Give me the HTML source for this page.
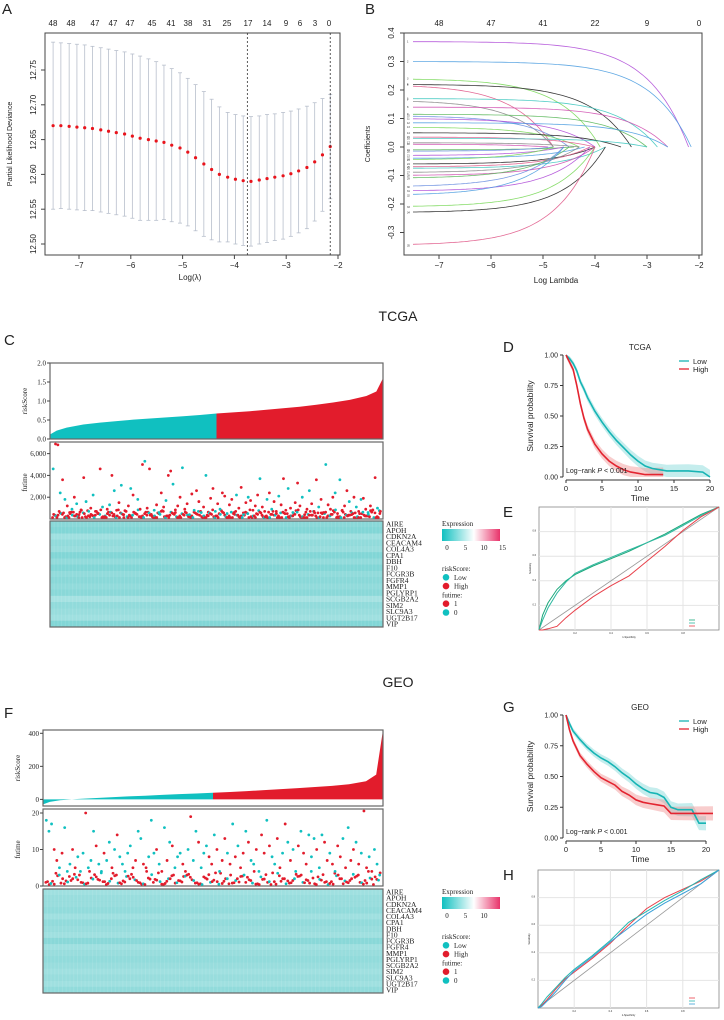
<!DOCTYPE html>
<html><head><meta charset="utf-8">
<style>
html,body{margin:0;padding:0;background:#fff;}
svg{display:block;font-family:"Liberation Sans",sans-serif;}
.serif{font-family:"Liberation Serif",serif;}
</style></head>
<body>
<svg id="fig" width="724" height="1020" viewBox="0 0 724 1020" xmlns="http://www.w3.org/2000/svg">
<g id="gA"></g>
<g id="gB"></g>
<g id="gC"></g>
<g id="gD"></g>
<g id="gE"></g>
<g id="gF"></g>
<g id="gG"></g>
<g id="gH"></g>
</svg>
<script>
// ---------- data ----------
const lambdaA=[-7.50,-7.35,-7.19,-7.04,-6.89,-6.74,-6.58,-6.43,-6.28,-6.12,-5.97,-5.82,-5.66,-5.51,-5.36,-5.21,-5.05,-4.90,-4.75,-4.59,-4.44,-4.29,-4.13,-3.98,-3.83,-3.68,-3.52,-3.37,-3.22,-3.06,-2.91,-2.76,-2.60,-2.45,-2.30,-2.15];
const meanA=[12.670,12.670,12.669,12.668,12.667,12.666,12.664,12.662,12.660,12.658,12.655,12.652,12.650,12.648,12.646,12.642,12.638,12.632,12.624,12.615,12.607,12.600,12.596,12.593,12.591,12.590,12.592,12.594,12.596,12.598,12.601,12.605,12.610,12.618,12.628,12.640];
const upperA=[12.790,12.789,12.788,12.787,12.786,12.784,12.782,12.780,12.778,12.776,12.773,12.770,12.766,12.762,12.757,12.752,12.746,12.738,12.729,12.719,12.708,12.697,12.689,12.686,12.684,12.683,12.684,12.686,12.687,12.689,12.691,12.694,12.698,12.703,12.709,12.715];
const topLabelsA=["48","48","47","47","47","45","41","38","31","25","17","14","9","6","3","0"];
const yTicksA=[12.50,12.55,12.60,12.65,12.70,12.75];
const xTicksA=[-7,-6,-5,-4,-3,-2];
const vlinesA=[-3.75,-2.15];

const coefStart=[0.37,0.30,0.24,0.22,0.22,0.17,0.165,0.14,0.115,0.11,0.10,0.085,0.07,0.05,0.035,0.03,0.015,0.01,-0.01,-0.015,-0.03,-0.04,-0.045,-0.06,-0.07,-0.075,-0.09,-0.10,-0.11,-0.14,-0.155,-0.17,-0.21,-0.23,-0.345];
const coefEnd=[-2.2,-2.15,-3.9,-3.3,-4.8,-2.8,-4.8,-2.6,-3.0,-4.5,-4.0,-2.6,-4.3,-3.5,-4.0,-3.0,-4.3,-4.9,-4.4,-4.8,-4.6,-4.2,-4.8,-4.0,-4.1,-3.8,-4.3,-4.0,-4.5,-4.6,-4.1,-4.6,-4.0,-3.8,-4.0];
const topLabelsB=["48","47","41","22","9","0"];
const yTicksB=[-0.3,-0.2,-0.1,0.0,0.1,0.2,0.3,0.4];

const genes=["AIRE","APOH","CDKN2A","CEACAM4","COL4A3","CPA1","DBH","F10","FCGR3B","FGFR4","MMP1","PGLYRP1","SCGB2A2","SIM2","SLC9A3","UGT2B17","VIP"];
const pctRisk=[0,2,5,10,15,20,25,30,35,40,45,50,55,60,65,70,75,80,85,90,95,98,100];
const tcgaRisk=[0.12,0.22,0.3,0.38,0.43,0.47,0.51,0.54,0.57,0.6,0.63,0.67,0.7,0.73,0.77,0.81,0.85,0.9,0.96,1.03,1.13,1.25,1.6];
const geoRisk=[-30,-15,-5,2,8,13,18,22,27,32,36,40,45,50,56,62,68,75,82,92,110,150,420];
const tcgaTime=[46,70,68,24,36,18,12,6,9,20,14,4,8,38,16,3,10,22,7,5,46,11,2,9,13,40,26,8,15,31,4,7,12,28,22,5,18,9,50,53,10,46,3,8,13,6,24,11,17,40,44,32,6,12,20,47,9,14,4,23,8,26,16,6,11,40,3,19,28,7,14,9,24,21,5,13,18,6,22,10,29,4,15,20,17,8,12,22,37,11,7,18,24,9,16,5,21,13,37,8,28,10,6,15,33,12,20,4,9,26,14,7,36,11,18,6,50,13,9,20,24,5,36,8,12,26,16,4,20,11,7,18,19,9,6,12,8,38,10,5];
const tcgaStatus="0110101101011101101110110101101110110110111010110110111011010110101110101101110110101111011010110111010111011011101101110101110110101101110110";
const tcgaLow=[2,5,8,1,4,9,3,6,10,2,7,4,12,1,5,8,3,9,6,2,11,4,7,1,5,3,8,10,2,6,4,9,1,7,3,5,12,2,8,4,6,1,9,3,7,5,2,10,4,8,1,6,3,9,5,2,7,4,11,1];
const geoTime=[18,15,17,10,7,5,9,16,4,6,10,5,8,4,9,20,5,7,15,11,6,4,9,7,12,5,10,14,8,6,4,9,11,5,7,15,13,6,5,8,18,9,10,6,4,16,7,12,11,5,8,9,6,4,10,19,7,15,12,5,9,11,8,6,14,10,4,7,13,9,6,17,8,11,5,9,15,12,7,6,10,4,14,9,18,11,8,6,13,5,9,17,12,7,10,4,11,15,9,6,14,8,13,10,5,14,12,7,9,6,4,11,8,13,5,16,7,10,12,6,9,21,5,8,4,10,6,3];
const geoStatus="0001101000110001000100100101000001100110001010101000110100100011010110101011010010110100110101001011000100110101101011010110100010";
const geoLow=[1,0.5,2,1.5,3,0.8,2.5,1.2,3.5,0.6,2,1,4,1.8,0.4,2.8,1.4,3.2,0.9,2.2,1.6,0.7,3,1.1,2.4,0.5,1.9,3.6,1.3,0.8,2.6,1.7,0.6,3.1,1.2,2,0.9,2.7,1.5,0.4];
const tcgaExpr=[0.2,0.15,0.35,0.25,0.3,0.15,0.25,0.15,0.25,0.2,0.25,0.2,0.4,0.25,0.3,0.35,0.15];
const geoExpr=[0.35,0.3,0.3,0.25,0.35,0.25,0.3,0.35,0.2,0.35,0.3,0.25,0.3,0.35,0.3,0.35,0.25];

const tcgaLowT=[0,0.5,1,1.5,2,2.5,3,4,5,6,7,8,9,10,11,12,13,14,15,17,19,20];
const tcgaLowS=[1,0.97,0.93,0.87,0.78,0.72,0.65,0.54,0.45,0.37,0.3,0.24,0.18,0.13,0.09,0.07,0.06,0.05,0.05,0.05,0.04,0.0];
const tcgaHighT=[0,0.5,1,1.5,2,2.5,3,4,5,6,7,8,9,10,11,12,13.5];
const tcgaHighS=[1,0.94,0.88,0.75,0.6,0.48,0.39,0.27,0.19,0.13,0.09,0.06,0.04,0.03,0.02,0.02,0.02];
const geoLowT=[0,0.5,1,2,3,4,5,6,7,8,9,10,11,12,13,14,15,16,17,18,19,20];
const geoLowS=[1,0.93,0.87,0.8,0.74,0.69,0.65,0.62,0.58,0.53,0.49,0.44,0.4,0.37,0.36,0.33,0.25,0.23,0.23,0.23,0.12,0.12];
const geoHighT=[0,0.5,1,2,3,4,5,6,7,8,9,10,11,12,13,14,15,17,21];
const geoHighS=[1,0.88,0.79,0.67,0.6,0.54,0.49,0.46,0.43,0.38,0.35,0.31,0.29,0.28,0.27,0.26,0.2,0.2,0.2];

const rocFpr=[0,0.02,0.05,0.1,0.15,0.2,0.3,0.4,0.5,0.6,0.7,0.8,0.9,1];
const rocE1=[0,0.12,0.22,0.33,0.4,0.45,0.52,0.58,0.64,0.71,0.78,0.86,0.94,1];
const rocE2=[0,0.08,0.18,0.3,0.39,0.46,0.53,0.59,0.65,0.71,0.77,0.85,0.93,1];
const rocE3=[0,0,0.01,0.03,0.1,0.16,0.27,0.36,0.44,0.56,0.68,0.81,0.92,1];
const rocH1=[0,0.02,0.06,0.14,0.21,0.26,0.36,0.47,0.6,0.72,0.8,0.86,0.92,1];
const rocH2=[0,0.03,0.08,0.15,0.22,0.28,0.38,0.49,0.62,0.7,0.78,0.85,0.93,1];
const rocH3=[0,0.01,0.05,0.12,0.2,0.27,0.37,0.48,0.58,0.68,0.76,0.83,0.9,1];

// ---------- helpers ----------
const NS="http://www.w3.org/2000/svg";
function mk(parent,tag,attrs,text){const e=document.createElementNS(NS,tag);for(const k in attrs)e.setAttribute(k,attrs[k]);if(text!==undefined)e.textContent=text;parent.appendChild(e);return e;}
function lin(d0,d1,r0,r1){return v=>r0+(v-d0)*(r1-r0)/(d1-d0);}
function label(g,x,y,t,size,name,extra){const e=mk(g,'text',Object.assign({x:x,y:y,'font-size':size,fill:'#222'},extra||{}),t);

return e;}

const gA=document.getElementById('gA'),gB=document.getElementById('gB'),gC=document.getElementById('gC'),gD=document.getElementById('gD'),gE=document.getElementById('gE'),gF=document.getElementById('gF'),gG=document.getElementById('gG'),gH=document.getElementById('gH');

// ---------- Panel A ----------
(function(){
const x=lin(-7,-2,79,338), y=lin(12.5,12.75,244,70);
label(gA,2,14,"A",15,'panel-a-label');
const box=mk(gA,'rect',{x:45,y:33,width:295,height:222,fill:'none',stroke:'#444','stroke-width':1});

yTicksA.forEach(v=>{mk(gA,'line',{x1:41,x2:45,y1:y(v),y2:y(v),stroke:'#444'});
 label(gA,36,y(v),v.toFixed(2),8,'y-tick-label',{'text-anchor':'middle',transform:`rotate(-90 36 ${y(v)})`});});
xTicksA.forEach(v=>{mk(gA,'line',{x1:x(v),x2:x(v),y1:255,y2:259,stroke:'#444'});
 label(gA,x(v),268,"−"+Math.abs(v),8,'x-tick-label',{'text-anchor':'middle'});});
const tpos=[53,71,95,113,130,152,171,188,207,227,248,267,286,300,315,329];
topLabelsA.forEach((t,i)=>label(gA,tpos[i],26,t,8,'top-axis-label',{'text-anchor':'middle'}));
label(gA,12,144,"Partial Likelihood Deviance",7,'y-axis-title',{'text-anchor':'middle',transform:'rotate(-90 12 144)'});
label(gA,190,280,"Log(λ)",8,'x-axis-title',{'text-anchor':'middle'});
lambdaA.forEach((l,i)=>{const xx=x(l),u=y(upperA[i]),lo=y(2*meanA[i]-upperA[i]);
 mk(gA,'line',{x1:xx,x2:xx,y1:u,y2:lo,stroke:'#b8bfcc','stroke-width':0.8});
 mk(gA,'line',{x1:xx-2,x2:xx+2,y1:u,y2:u,stroke:'#b8bfcc','stroke-width':0.8});
 mk(gA,'line',{x1:xx-2,x2:xx+2,y1:lo,y2:lo,stroke:'#b8bfcc','stroke-width':0.8});});
lambdaA.forEach((l,i)=>{const c=mk(gA,'circle',{cx:x(l),cy:y(meanA[i]),r:1.6,fill:'#e8141c'});
 
 });
vlinesA.forEach(v=>{const l=mk(gA,'line',{x1:x(v),x2:x(v),y1:33,y2:255,stroke:'#333','stroke-dasharray':'2,2','stroke-width':0.8});
 });
})();

// ---------- Panel B ----------
(function(){
const x=lin(-7,-2,439,699), y=lin(0,0.4,147,33);
label(gB,365,14,"B",15,'panel-b-label');
mk(gB,'rect',{x:404,y:33,width:298,height:222,fill:'none',stroke:'#444'});
yTicksB.forEach(v=>{mk(gB,'line',{x1:400,x2:404,y1:y(v),y2:y(v),stroke:'#444'});
 label(gB,394,y(v),v.toFixed(1),8,'y-tick-label',{'text-anchor':'middle',transform:`rotate(-90 394 ${y(v)})`});});
[-7,-6,-5,-4,-3,-2].forEach((v,i)=>{mk(gB,'line',{x1:x(v),x2:x(v),y1:255,y2:259,stroke:'#444'});
 label(gB,x(v),268,"−"+Math.abs(v),8,'x-tick-label',{'text-anchor':'middle'});
 label(gB,x(v),26,topLabelsB[i],8,'top-axis-label',{'text-anchor':'middle'});});
label(gB,370,144,"Coefficients",7,'y-axis-title',{'text-anchor':'middle',transform:'rotate(-90 370 144)'});
label(gB,556,283,"Log Lambda",8,'x-axis-title',{'text-anchor':'middle'});
const pal=['#b04fd8','#4f9fe0','#7ad85a','#222','#e05a8a','#40c8c0','#888','#d04fb0','#5cb85c','#6b8fe0'];
coefStart.forEach((s,i)=>{let d='';for(let k=0;k<=60;k++){const l=-7.5+k*(coefEnd[i]+7.5)/60;
 const c=s*(1-Math.exp(1.3*(l-coefEnd[i])));d+=(k?'L':'M')+x(l).toFixed(1)+','+y(c).toFixed(1);}
 const p=mk(gB,'path',{d:d,fill:'none',stroke:pal[i%pal.length],'stroke-width':0.8,opacity:0.9});
 
 label(gB,407,y(s)+1,String(i+1),2.5,'path-index-label');});
})();

// ---------- risk panels C / F ----------
function riskPanel(g,o){
 const {letter,title,titleY,letterY,x0,x1,rTop,rBot,rDom,rTicks,rTickFmt,risk,fTop,fBot,fDom,fTicks,fFmt,times,status,low,hTop,hBot,expr,legTicks}=o;
 label(g,398,titleY,title,14,'section-title',{'text-anchor':'middle'});
 label(g,4,letterY,letter,15,'panel-letter');
 const xr=lin(0,100,x0,x1), yr=lin(rDom[0],rDom[1],rBot,rTop);
 const z=yr(0);
 let dl=`M${xr(0)},${z}`,dh='';
 pctRisk.forEach((p,i)=>{if(p<=50)dl+=`L${xr(p)},${yr(risk[i])}`;});
 dl+=`L${xr(50)},${z}Z`;
 dh=`M${xr(50)},${z}`;pctRisk.forEach((p,i)=>{if(p>=50)dh+=`L${xr(p)},${yr(risk[i])}`;});dh+=`L${xr(100)},${z}Z`;
 const a1=mk(g,'path',{d:dl,fill:'#10c0c0'});
 const a2=mk(g,'path',{d:dh,fill:'#e21c2c'});
 mk(g,'rect',{x:x0,y:rTop,width:x1-x0,height:rBot-rTop,fill:'none',stroke:'#666','stroke-width':1.2});
 rTicks.forEach(v=>{mk(g,'line',{x1:x0-3,x2:x0,y1:yr(v),y2:yr(v),stroke:'#444'});
  label(g,x0-4,yr(v)+2.5,rTickFmt(v),7,'risk-tick',{'text-anchor':'end',class:'serif'});});
 label(g,x0-23,(rTop+rBot)/2,"riskScore",7,'risk-axis-title',{'text-anchor':'middle',class:'serif',transform:`rotate(-90 ${x0-23} ${(rTop+rBot)/2})`});
 const yf=lin(fDom[0],fDom[1],fBot,fTop);
 mk(g,'rect',{x:x0,y:fTop-4,width:x1-x0,height:fBot-fTop+4,fill:'none',stroke:'#666','stroke-width':1.2});
 fTicks.forEach(v=>{mk(g,'line',{x1:x0-3,x2:x0,y1:yf(v),y2:yf(v),stroke:'#444'});
  label(g,x0-4,yf(v)+2.5,fFmt(v),7,'futime-tick',{'text-anchor':'end',class:'serif'});});
 label(g,x0-23,(fTop+fBot)/2,"futime",7,'futime-axis-title',{'text-anchor':'middle',class:'serif',transform:`rotate(-90 ${x0-23} ${(fTop+fBot)/2})`});
 const n=times.length;
 low.forEach((v,i)=>{for(let r=0;r<5;r++){const idx=(i*5+r);const xx=x0+2+(idx+0.5)*(x1-x0-4)/(low.length*5);
   const vv=low[(i+r*7)%low.length];const c=mk(g,'circle',{cx:xx,cy:Math.min(fBot-1.5,yf(vv*o.lowScale)),r:1.4,fill:(r%4===3)?'#10c0c0':'#e21c2c'});
   
   }});
 times.forEach((t,i)=>{const xx=x0+2+(i+0.5)*(x1-x0-4)/n;const c=mk(g,'circle',{cx:xx,cy:Math.max(fTop-2,yf(t*o.timeScale)),r:1.4,fill:status[i]==='1'?'#e21c2c':'#10c0c0'});
  
  });
 const rh=(hBot-hTop)/genes.length;
 mk(g,'rect',{x:x0,y:hTop,width:x1-x0,height:hBot-hTop,fill:'#6ccfcf'});
 genes.forEach((gn,i)=>{const r=mk(g,'rect',{x:x0,y:hTop+i*rh,width:x1-x0,height:rh,fill:'#ffffff',opacity:expr[i]});
  
  
  label(g,x1+3,hTop+i*rh+rh-0.5,gn,7.5,'gene-label',{class:'serif'});});
 for(let c=0;c<90;c++){mk(g,'rect',{x:x0+c*(x1-x0)/90,y:hTop,width:1,height:hBot-hTop,fill:'#ffffff',opacity:0.1});}
 mk(g,'rect',{x:x0,y:hTop,width:x1-x0,height:hBot-hTop,fill:'none',stroke:'#666','stroke-width':1.2});
 const lx=442,ly=hTop+5;
 label(g,lx,ly,"Expression",7,'legend-title',{class:'serif'});
 const gid='grad'+letter;const defs=mk(g,'defs',{});const lg=mk(defs,'linearGradient',{id:gid});
 mk(lg,'stop',{offset:'0',"stop-color":'#10c0c0'});mk(lg,'stop',{offset:'0.55',"stop-color":'#ffffff'});mk(lg,'stop',{offset:'1',"stop-color":'#e8336a'});
 const cb=mk(g,'rect',{x:lx,y:ly+3,width:58,height:12,fill:`url(#${gid})`});
 legTicks.forEach((t,i)=>label(g,lx+5+i*18.5,ly+24,t,7,'colorbar-tick',{'text-anchor':'middle',class:'serif'}));
 const items=[["riskScore:",null],["Low",'#10c0c0'],["High",'#e21c2c'],["futime:",null],["1",'#e21c2c'],["0",'#10c0c0']];
 items.forEach((it,i)=>{const yy=ly+45+i*8.8;if(it[1]){const c=mk(g,'circle',{cx:lx+4,cy:yy-2.5,r:3.3,fill:it[1]});
  
  label(g,lx+12,yy,it[0],7,'legend-entry',{class:'serif'});}
  else label(g,lx,yy,it[0],7,'legend-heading',{class:'serif'});});
}
riskPanel(gC,{letter:"C",title:"TCGA",titleY:321,letterY:345,x0:50,x1:383,rTop:363,rBot:439,rDom:[0,2],rTicks:[0,0.5,1,1.5,2],rTickFmt:v=>v.toFixed(1),risk:tcgaRisk,
 fTop:446,fBot:519,fDom:[0,6700],fTicks:[2000,4000,6000],fFmt:v=>v.toLocaleString('en-US'),times:tcgaTime,status:tcgaStatus,low:tcgaLow,timeScale:100,lowScale:70,
 hTop:521,hBot:627,expr:tcgaExpr,legTicks:["0","5","10","15"]});
riskPanel(gF,{letter:"F",title:"GEO",titleY:687,letterY:718,x0:43,x1:383,rTop:730,rBot:806,rDom:[-40,420],rTicks:[0,200,400],rTickFmt:v=>String(v),risk:geoRisk,
 fTop:813,fBot:886,fDom:[0,20],fTicks:[0,10,20],fFmt:v=>String(v),times:geoTime,status:geoStatus,low:geoLow,timeScale:1,lowScale:1,
 hTop:889,hBot:993,expr:geoExpr,legTicks:["0","5","10"]});

// ---------- survival panels ----------
function survPanel(g,o){
 const {letter,title,top,bot,lowT,lowS,highT,highS}=o;
 const x=lin(0,20,566,o.x20), y=lin(0,1,bot,top);
 label(g,503,top-3,letter,15,'panel-letter');
 label(g,640,top-5,title,8,'panel-title',{'text-anchor':'middle'});
 function curve(T,S){let d='';for(let i=0;i<T.length;i++)d+=`${i?'L':'M'}${x(T[i]).toFixed(1)},${y(S[i]).toFixed(1)}`;return d;}
 function band(T,S,w){let up='',dn='';for(let i=0;i<T.length;i++){const e=w*(1+i/T.length*2);
  up+=`${i?'L':'M'}${x(T[i])},${y(Math.min(1,S[i]+e))}`;}
  for(let i=T.length-1;i>=0;i--){const e=w*(1+i/T.length*2);dn+=`L${x(T[i])},${y(Math.max(0,S[i]-e))}`;}
  return up+dn+'Z';}
 const b1=mk(g,'path',{d:band(lowT,lowS,0.02),fill:'#7fd8d8',opacity:0.45});
 const b2=mk(g,'path',{d:band(highT,highS,0.02),fill:'#f09090',opacity:0.45});
 const l1=mk(g,'path',{d:curve(lowT,lowS),fill:'none',stroke:'#16b4b4','stroke-width':1.6});
 const l2=mk(g,'path',{d:curve(highT,highS),fill:'none',stroke:'#e32430','stroke-width':1.6});
 mk(g,'line',{x1:563,x2:563,y1:top,y2:bot,stroke:'#333'});mk(g,'line',{x1:566,x2:o.x20,y1:bot+3,y2:bot+3,stroke:'#333'});
 [0,0.25,0.5,0.75,1].forEach(v=>{mk(g,'line',{x1:560,x2:563,y1:y(v),y2:y(v),stroke:'#333'});label(g,558,y(v)+2.5,v.toFixed(2),7,'y-tick-label',{'text-anchor':'end'});});
 [0,5,10,15,20].forEach(v=>{mk(g,'line',{x1:x(v),x2:x(v),y1:bot+3,y2:bot+6,stroke:'#333'});label(g,x(v),bot+14,String(v),7.5,'x-tick-label',{'text-anchor':'middle'});});
 label(g,640,bot+24,"Time",8.5,'x-axis-title',{'text-anchor':'middle'});
 label(g,533,(top+bot)/2,"Survival probability",8.5,'y-axis-title',{'text-anchor':'middle',transform:`rotate(-90 533 ${(top+bot)/2})`});
 const t=label(g,566,bot-4,"Log−rank ",7,'logrank-annotation');mk(t,'tspan',{'font-style':'italic'},"P");mk(t,'tspan',{},' < 0.001');
 mk(g,'line',{x1:679,x2:689,y1:top+6,y2:top+6,stroke:'#16b4b4','stroke-width':1.3});label(g,693,top+9,"Low",7.5,'legend-low');
 mk(g,'line',{x1:679,x2:689,y1:top+14,y2:top+14,stroke:'#e32430','stroke-width':1.3});label(g,693,top+17,"High",7.5,'legend-high');
}
survPanel(gD,{letter:"D",title:"TCGA",top:355,bot:477,x20:710,lowT:tcgaLowT,lowS:tcgaLowS,highT:tcgaHighT,highS:tcgaHighS});
survPanel(gG,{letter:"G",title:"GEO",top:715,bot:838,x20:706,lowT:geoLowT,lowS:geoLowS,highT:geoHighT,highS:geoHighS});

// ---------- ROC ----------
function rocPanel(g,o){
 const {letter,x0,x1,y0,y1,curves,cols}=o;
 const x=lin(0,1,x0,x1), y=lin(0,1,y1,y0);
 label(g,503,y0+10,letter,15,'panel-letter');
 mk(g,'rect',{x:x0,y:y0,width:x1-x0,height:y1-y0,fill:'#fff',stroke:'#888','stroke-width':0.8});
 [0.2,0.4,0.6,0.8].forEach(v=>{mk(g,'line',{x1:x(v),x2:x(v),y1:y0,y2:y1,stroke:'#e4e4e4'});mk(g,'line',{x1:x0,x2:x1,y1:y(v),y2:y(v),stroke:'#e4e4e4'});
  label(g,x0-3,y(v),v.toFixed(1),2.5,'roc-y-tick',{'text-anchor':'end'});label(g,x(v),y1+4,v.toFixed(1),2.5,'roc-x-tick',{'text-anchor':'middle'});});
 mk(g,'line',{x1:x0,y1:y1,x2:x1,y2:y0,stroke:'#999','stroke-width':0.8});
 curves.forEach((c,i)=>{let d='';rocFpr.forEach((f,k)=>{d+=(k?'L':'M')+x(f).toFixed(1)+','+y(c[k]).toFixed(1);});
  const p=mk(g,'path',{d:d,fill:'none',stroke:cols[i],'stroke-width':1});});
 label(g,(x0+x1)/2,y1+8,"1-Specificity",2.5,'roc-x-title',{'text-anchor':'middle'});
 label(g,x0-8,(y0+y1)/2,"Sensitivity",2.5,'roc-y-title',{'text-anchor':'middle',transform:`rotate(-90 ${x0-8} ${(y0+y1)/2})`});
 cols.forEach((c,i)=>{mk(g,'line',{x1:x1-30,x2:x1-24,y1:y1-10+i*3,y2:y1-10+i*3,stroke:c,'stroke-width':0.8});});
}
rocPanel(gE,{letter:"E",x0:539,x1:719,y0:507,y1:630,curves:[rocE1,rocE2,rocE3],cols:['#1aa87a','#2fb8a0','#e8404a']});
rocPanel(gH,{letter:"H",x0:538,x1:719,y0:870,y1:1008,curves:[rocH1,rocH2,rocH3],cols:['#e8404a','#25b8b0','#3aa0d8']});
</script>
</body></html>
